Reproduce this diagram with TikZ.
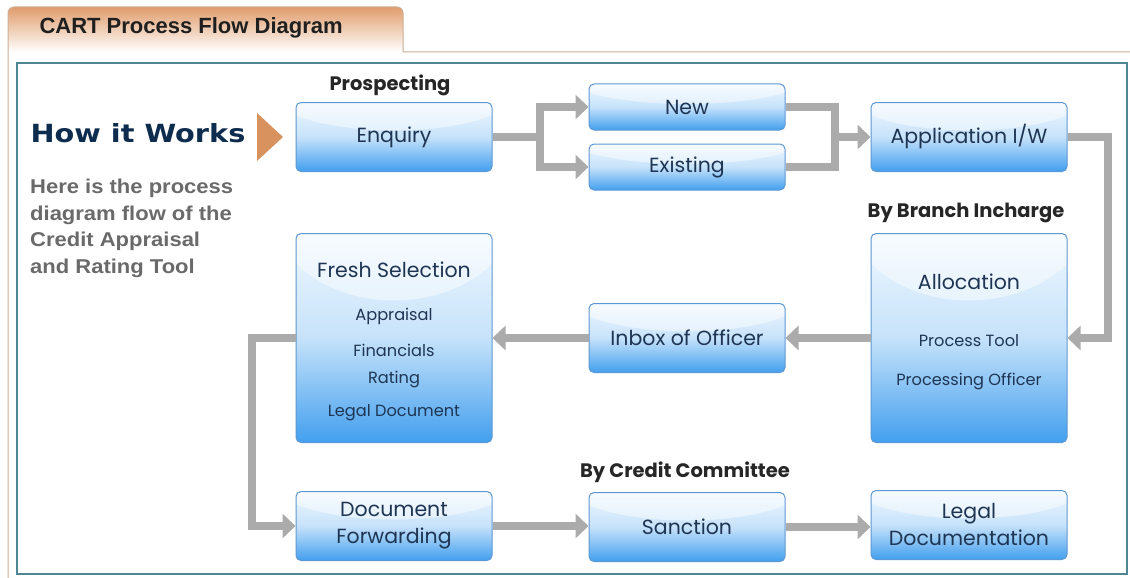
\documentclass[tikz,border=0pt]{standalone}
\usepackage{fontspec}
\setmainfont{Liberation Sans}
\newfontfamily\gothic{Poppins}
\newfontfamily\heavy{DejaVu Sans}
\usetikzlibrary{arrows.meta,calc}

\definecolor{boxtop}{HTML}{F0F8FF}
\definecolor{boxmid}{HTML}{C6E2FA}
\definecolor{boxbot}{HTML}{429FEE}
\definecolor{boxline}{HTML}{5E98D2}
\definecolor{boxtext}{HTML}{1E3553}
\definecolor{flowgray}{HTML}{ABABAB}
\definecolor{frameteal}{HTML}{4E8792}
\definecolor{tabtop}{HTML}{E09C6C}
\definecolor{tabline}{HTML}{CDAE96}
\definecolor{navy}{HTML}{0E2C4E}
\definecolor{descgray}{HTML}{6A6A6A}
\definecolor{pointer}{HTML}{D8925E}

\begin{document}
\begin{tikzpicture}[x=1pt,y=-1pt,
  stage/.style={rectangle, rounded corners=5pt, draw=boxline, line width=1pt,
    top color=boxtop, bottom color=boxbot, middle color=boxmid,
    minimum width=196pt, minimum height=69pt, inner sep=0pt,
    text=boxtext, align=center},
  gloss/.style 2 args={path picture={
    \fill[white,opacity=.45] ([yshift=#1]path picture bounding box.north)
      ellipse (125pt and #2);}},
  big/.style={font=\gothic\fontsize{20.5}{27}\selectfont, text=boxtext},
  small/.style={font=\gothic\fontsize{16.2}{19}\selectfont, text=boxtext},
  stagehead/.style={font=\gothic\bfseries\fontsize{19.5}{23}\selectfont, text=black!85},
  flow/.style={draw=flowgray, line width=8pt, line join=miter},
  tip/.style={-{Triangle[length=13pt,width=24pt]}},
]
\useasboundingbox (0,0) rectangle (1130,578);
\fill[white] (0,0) rectangle (1130,578);

% tab with title
\shade[top color=tabtop, bottom color=white]
  (8,52) [rounded corners=6pt] -- (8,7) -- (403,7) [sharp corners] -- (403,52) -- cycle;
\draw[tabline, line width=1pt]
  (8,578) [rounded corners=6pt] -- (8,7) -- (403,7) [sharp corners] -- (403,52) -- (1130,52);
\node[anchor=west, font=\bfseries\fontsize{22}{26}\selectfont, text=black!88] (title) at (36,28)
  {CART Process Flow Diagram};

% inner frame
\draw[frameteal, line width=1.5pt, fill=white] (17,63) rectangle (1127,574);

% intro text
\node[anchor=west, font=\heavy\bfseries\fontsize{25}{30}\selectfont, text=navy] (how) at (27,133)
  {\scalebox{1.15}[1]{How it Works}};
\fill[pointer] (257,113) -- (283,137) -- (257,161) -- cycle;
\node[anchor=north west, font=\bfseries\fontsize{20}{26.5}\selectfont, text=descgray, align=left,
  inner sep=0pt] (desc) at (30,179)
  {\scalebox{1.1}[1]{Here is the process}\\ \scalebox{1.1}[1]{diagram flow of the}\\
   \scalebox{1.1}[1]{Credit Appraisal}\\ \scalebox{1.1}[1]{and Rating Tool}};

% stages
\node[stage, gloss={12pt}{40pt}, big] (enq) at (394,137) {Enquiry};
\node[stage, gloss={10pt}{30pt}, minimum height=46pt, big] (new) at (687,107) {New};
\node[stage, gloss={10pt}{30pt}, minimum height=46pt, big] (ex) at (687,167) {Existing};
\node[stage, gloss={12pt}{40pt}, big] (app) at (969,137) {Application I/W};
\node[stage, gloss={30pt}{97pt}, minimum height=209pt] (alloc) at (969,338) {};
\node[stage, gloss={12pt}{40pt}, big] (inbox) at (687,338) {Inbox of Officer};
\node[stage, gloss={30pt}{97pt}, minimum height=209pt] (fresh) at (394,338) {};
\node[stage, gloss={12pt}{40pt}, big] (docf) at (394,526) {Document\\Forwarding};
\node[stage, gloss={12pt}{40pt}, big] (sanc) at (687,527) {Sanction};
\node[stage, gloss={12pt}{40pt}, big] (legal) at (969,525) {Legal\\Documentation};

% texts inside the tall stages
\node[big] (alloc-t) at (969,282) {Allocation};
\node[small] (alloc-1) at (969,341) {Process Tool};
\node[small] (alloc-2) at (969,381) {Processing Officer};
\node[big] (fresh-t) at (394,270) {Fresh Selection};
\node[small] (fresh-1) at (394,316) {Appraisal};
\node[small] (fresh-2) at (394,350) {Financials};
\node[small] (fresh-3) at (394,380) {Rating};
\node[small] (fresh-4) at (394,413) {Legal Document};

% stage headings
\node[stagehead] (h1) at (390,85) {Prospecting};
\node[stagehead] (h2) at (966,213) {By Branch Incharge};
\node[stagehead] (h3) at (685,472) {By Credit Committee};

% connectors
\coordinate (split) at (540,137);
\coordinate (merge) at (835,137);
\coordinate (rturn) at (1108,137);
\coordinate (lturn) at (252,338);
\draw[flow] (enq.east) -- (split);
\draw[flow, tip] (split) |- (new.west);
\draw[flow, tip] (split) |- (ex.west);
\draw[flow] (new.east) -| (merge);
\draw[flow] (ex.east) -| (merge);
\draw[flow, tip] (merge) -- (app.west);
\draw[flow, tip] (app.east) -- (rturn) |- (alloc.east);
\draw[flow, tip] (alloc.west) -- (inbox.east);
\draw[flow, tip] (inbox.west) -- (fresh.west -| fresh.east);
\draw[flow, tip] (fresh.west) -- (lturn) |- (docf.west);
\draw[flow, tip] (docf.east) -- (docf.east -| sanc.west);
\draw[flow, tip] (sanc.east) -- (sanc.east -| legal.west);
\end{tikzpicture}
\end{document}
